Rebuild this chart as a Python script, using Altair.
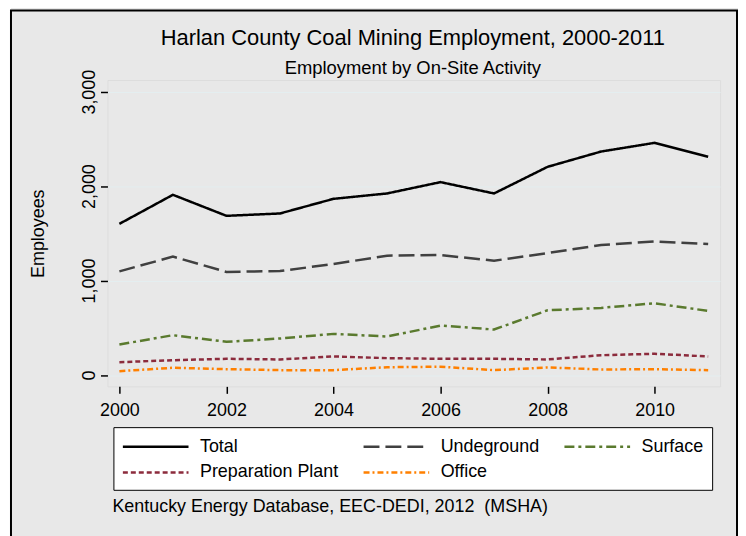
import altair as alt
import pandas as pd

# ---- data ----
years = [2000, 2001, 2002, 2003, 2004, 2005, 2006, 2007, 2008, 2009, 2010, 2011]
total = [1600, 1908, 1685, 1710, 1865, 1922, 2042, 1922, 2204, 2366, 2458, 2310]
underground = [1097, 1253, 1091, 1100, 1175, 1263, 1270, 1210, 1291, 1376, 1414, 1387]
surface = [322, 421, 351, 386, 435, 407, 523, 481, 685, 710, 759, 678]
prep_plant = [135, 156, 171, 164, 196, 178, 171, 171, 164, 209, 224, 196]
office = [40, 76, 61, 51, 51, 82, 87, 51, 79, 58, 61, 51]

series_names = ["Total", "Undeground", "Surface", "Preparation Plant", "Office"]
series_colors = ["#000000", "#404040", "#5a7a2e", "#8c2b3c", "#ff8000"]
series_dashes = [[1, 0], [16, 6], [10, 4, 3, 4], [5, 3], [6, 3, 2, 3]]

x_ticks = [2000, 2002, 2004, 2006, 2008, 2010]
y_ticks = [0, 1000, 2000, 3000]

title_text = ["Harlan County Coal Mining Employment, 2000-2011"]
subtitle_text = ["Employment by On-Site Activity"]
source_text = ["Kentucky Energy Database, EEC-DEDI, 2012\u00a0 (MSHA)"]

FONT = "Liberation Sans"

rows = []
for name, vals in zip(series_names, [total, underground, surface, prep_plant, office]):
    for yr, v in zip(years, vals):
        rows.append({"year": yr, "value": v, "series": name})
df = pd.DataFrame(rows)

# long horizontal stroke symbol (symbol box is 20px, drawn line is 66px)
legend = alt.Legend(
    title=None, orient="none", legendX=6, legendY=349, direction="horizontal",
    columns=3, columnPadding=19, rowPadding=5, padding=8,
    fillColor="white", strokeColor="black",
    symbolType="M-1,0H5.6", symbolSize=400, symbolStrokeWidth=2.5,
    labelFontSize=18, labelFont=FONT, labelColor="black", labelOffset=56,
    labelLimit=400,
)

lines = alt.Chart(df).mark_line(strokeWidth=2.5).encode(
    x=alt.X("year:Q",
            scale=alt.Scale(domain=[1999.777, 2011.223], nice=False, zero=False),
            axis=alt.Axis(values=x_ticks, format="d", title=None, grid=False, domain=False,
                          tickSize=7, tickColor="black", tickWidth=1.5,
                          labelFontSize=18, labelFont=FONT, labelColor="black",
                          labelPadding=8, labelFlush=False)),
    y=alt.Y("value:Q",
            scale=alt.Scale(domain=[-121, 3123], nice=False, zero=False),
            axis=alt.Axis(values=y_ticks, format=",d", title="Employees", grid=True,
                          gridColor="#e4eef0", gridWidth=1, domain=False,
                          tickSize=7, tickColor="black", tickWidth=1.5,
                          labelFontSize=18, labelFont=FONT, labelColor="black",
                          labelAngle=270, labelAlign="center", labelBaseline="bottom",
                          labelPadding=2,
                          titleFontSize=18, titleFont=FONT, titleFontWeight="normal",
                          titleColor="black", titleAngle=270, titleAlign="center",
                          titleBaseline="alphabetic", titleX=-64, titleY=154)),
    color=alt.Color("series:N", scale=alt.Scale(domain=series_names, range=series_colors),
                    legend=legend),
    strokeDash=alt.StrokeDash("series:N", scale=alt.Scale(domain=series_names, range=series_dashes),
                              legend=legend),
)

one = pd.DataFrame({"k": [0]})

white_strip = alt.Chart(one).mark_rect(fill="white", strokeWidth=0).encode(
    x=alt.value(-100), x2=alt.value(-97), y=alt.value(-80), y2=alt.value(470))

border = alt.Chart(one).mark_rect(fillOpacity=0, stroke="black", strokeWidth=2).encode(
    x=alt.value(-97), x2=alt.value(633), y=alt.value(-70), y2=alt.value(470))

title = alt.Chart(pd.DataFrame({"t": title_text})).mark_text(
    font=FONT, fontSize=22, color="black", align="center", baseline="alphabetic").encode(
    x=alt.value(307), y=alt.value(-35), text="t:N")

subtitle = alt.Chart(pd.DataFrame({"t": subtitle_text})).mark_text(
    font=FONT, fontSize=18.5, color="black", align="center", baseline="alphabetic").encode(
    x=alt.value(307), y=alt.value(-6), text="t:N")

source = alt.Chart(pd.DataFrame({"t": source_text})).mark_text(
    font=FONT, fontSize=18, color="black", align="left", baseline="alphabetic").encode(
    x=alt.value(5), y=alt.value(434), text="t:N")

chart = alt.layer(white_strip, border, lines, title, subtitle, source).properties(
    width=616, height=308,
    padding={"left": 100, "top": 71, "right": 18, "bottom": 149},
    autosize=alt.AutoSizeParams(type="none"),
    background="#e8e8e8",
).configure_view(
    fill="white", stroke="#222222", strokeWidth=2
).configure(font=FONT)

chart.save("out.html", embed_options={"renderer": "svg", "actions": False})
